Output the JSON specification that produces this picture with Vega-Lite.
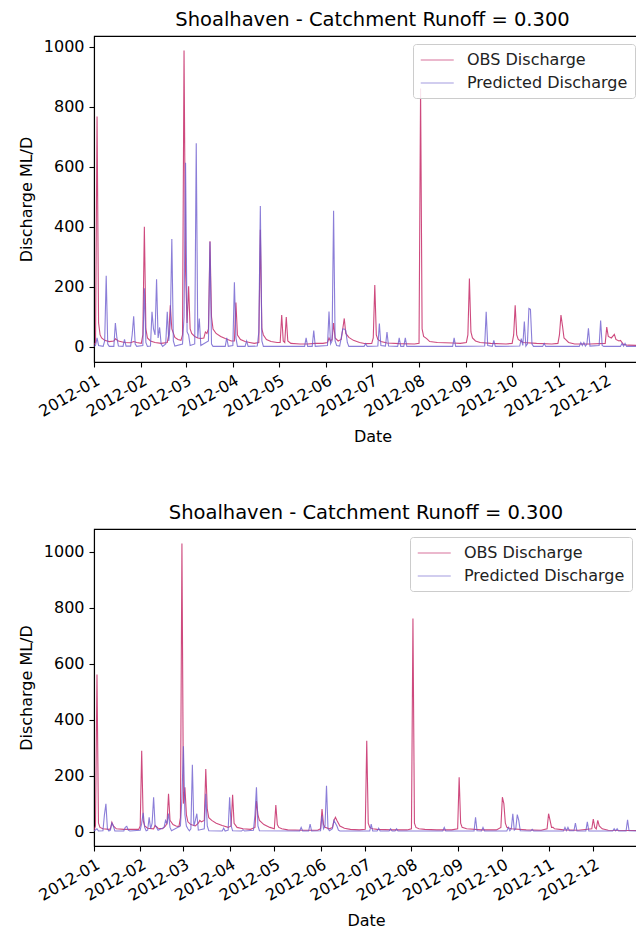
{
  "$schema": "https://vega.github.io/schema/vega-lite/v6.json",
  "background": "white",
  "padding": {"left": 17, "top": 8, "right": 0, "bottom": 0},
  "spacing": 56,
  "align": "none",
  "resolve": {"legend": {"color": "independent"}},
  "config": {
    "font": "DejaVu Sans",
    "view": {"stroke": "black", "strokeWidth": 1.1},
    "axis": {
      "labelFont": "DejaVu Sans", "labelFontSize": 16, "labelColor": "black",
      "titleFont": "DejaVu Sans", "titleFontSize": 16, "titleFontWeight": "normal", "titleColor": "black",
      "domainColor": "black", "domainWidth": 1.1, "tickColor": "black", "tickSize": 5, "tickWidth": 1.1,
      "grid": false, "labelPadding": 5
    },
    "axisY": {"titlePadding": 9},
    "axisX": {"titlePadding": 9},
    "title": {"font": "DejaVu Sans", "fontSize": 19.5, "fontWeight": "normal", "color": "black", "offset": 6},
    "legend": {
      "title": null,
      "labelFont": "DejaVu Sans", "labelFontSize": 16, "labelColor": "#222222", "labelLimit": 400,
      "symbolType": "M-1,0H3", "symbolSize": 272, "symbolStrokeWidth": 1.2, "symbolOpacity": 0.6,
      "fillColor": "rgba(255,255,255,0.85)", "strokeColor": "#cccccc", "cornerRadius": 3,
      "padding": 7, "rowPadding": 6, "labelOffset": 29
    }
  },
  "datasets": {
    "top": [
      {"d":"2012-01-01","o":8},{"d":"2012-01-02","o":15},{"d":"2012-01-03","o":767},{"d":"2012-01-04","o":80},{"d":"2012-01-05","o":40},{"d":"2012-01-06","o":30},{"d":"2012-01-08","o":22},{"d":"2012-01-11","o":18},{"d":"2012-01-14","o":20},{"d":"2012-01-15","o":27},{"d":"2012-01-17","o":20},{"d":"2012-01-21","o":15},{"d":"2012-01-25","o":14},{"d":"2012-01-27","o":18},{"d":"2012-01-29","o":15},
      {"d":"2012-02-01","o":12},{"d":"2012-02-02","o":40},{"d":"2012-02-03","o":400},{"d":"2012-02-04","o":60},{"d":"2012-02-05","o":30},{"d":"2012-02-07","o":20},{"d":"2012-02-10","o":15},{"d":"2012-02-14","o":12},{"d":"2012-02-18","o":15},{"d":"2012-02-19","o":40},{"d":"2012-02-20","o":139},{"d":"2012-02-21","o":60},{"d":"2012-02-23","o":32},{"d":"2012-02-25","o":25},{"d":"2012-02-27","o":22},{"d":"2012-02-28","o":40},{"d":"2012-02-29","o":987},
      {"d":"2012-03-01","o":250},{"d":"2012-03-02","o":80},{"d":"2012-03-03","o":202},{"d":"2012-03-04","o":60},{"d":"2012-03-05","o":45},{"d":"2012-03-07","o":35},{"d":"2012-03-09","o":30},{"d":"2012-03-11","o":28},{"d":"2012-03-13","o":30},{"d":"2012-03-14","o":50},{"d":"2012-03-15","o":45},{"d":"2012-03-16","o":60},{"d":"2012-03-17","o":352},{"d":"2012-03-18","o":100},{"d":"2012-03-19","o":60},{"d":"2012-03-21","o":45},{"d":"2012-03-24","o":35},{"d":"2012-03-27","o":28},{"d":"2012-03-31","o":20},
      {"d":"2012-04-02","o":20},{"d":"2012-04-03","o":148},{"d":"2012-04-04","o":40},{"d":"2012-04-06","o":25},{"d":"2012-04-09","o":18},{"d":"2012-04-12","o":15},{"d":"2012-04-15","o":12},{"d":"2012-04-18","o":15},{"d":"2012-04-19","o":390},{"d":"2012-04-20","o":60},{"d":"2012-04-21","o":40},{"d":"2012-04-23","o":25},{"d":"2012-04-26","o":18},{"d":"2012-04-30","o":15},
      {"d":"2012-05-02","o":15},{"d":"2012-05-03","o":106},{"d":"2012-05-04","o":20},{"d":"2012-05-05","o":15},{"d":"2012-05-06","o":100},{"d":"2012-05-07","o":20},{"d":"2012-05-09","o":12},{"d":"2012-05-15","o":10},{"d":"2012-05-20","o":10},{"d":"2012-05-25","o":12},{"d":"2012-05-30","o":12},
      {"d":"2012-06-02","o":15},{"d":"2012-06-03","o":30},{"d":"2012-06-04","o":20},{"d":"2012-06-05","o":25},{"d":"2012-06-06","o":80},{"d":"2012-06-07","o":30},{"d":"2012-06-09","o":20},{"d":"2012-06-11","o":25},{"d":"2012-06-13","o":95},{"d":"2012-06-14","o":45},{"d":"2012-06-16","o":32},{"d":"2012-06-19","o":22},{"d":"2012-06-23","o":15},{"d":"2012-06-27","o":11},
      {"d":"2012-07-01","o":12},{"d":"2012-07-02","o":30},{"d":"2012-07-03","o":206},{"d":"2012-07-04","o":40},{"d":"2012-07-05","o":25},{"d":"2012-07-07","o":18},{"d":"2012-07-11","o":13},{"d":"2012-07-19","o":11},{"d":"2012-07-29","o":10},
      {"d":"2012-08-01","o":12},{"d":"2012-08-02","o":860},{"d":"2012-08-03","o":60},{"d":"2012-08-04","o":35},{"d":"2012-08-06","o":28},{"d":"2012-08-08","o":18},{"d":"2012-08-13","o":15},{"d":"2012-08-23","o":13},{"d":"2012-08-28","o":12},
      {"d":"2012-09-01","o":15},{"d":"2012-09-02","o":40},{"d":"2012-09-03","o":228},{"d":"2012-09-04","o":50},{"d":"2012-09-05","o":30},{"d":"2012-09-07","o":20},{"d":"2012-09-10","o":15},{"d":"2012-09-17","o":12},{"d":"2012-09-27","o":10},
      {"d":"2012-10-01","o":12},{"d":"2012-10-02","o":40},{"d":"2012-10-03","o":139},{"d":"2012-10-04","o":40},{"d":"2012-10-05","o":25},{"d":"2012-10-08","o":15},{"d":"2012-10-17","o":12},{"d":"2012-10-27","o":10},{"d":"2012-10-31","o":12},
      {"d":"2012-11-01","o":40},{"d":"2012-11-02","o":106},{"d":"2012-11-03","o":70},{"d":"2012-11-04","o":30},{"d":"2012-11-05","o":25},{"d":"2012-11-07","o":15},{"d":"2012-11-11","o":10},{"d":"2012-11-21","o":10},
      {"d":"2012-12-01","o":12},{"d":"2012-12-02","o":66},{"d":"2012-12-03","o":35},{"d":"2012-12-05","o":30},{"d":"2012-12-07","o":42},{"d":"2012-12-08","o":25},{"d":"2012-12-10","o":20},{"d":"2012-12-11","o":22},{"d":"2012-12-13","o":8},{"d":"2012-12-16","o":6},{"d":"2012-12-26","o":5},{"d":"2012-12-31","o":5},
      {"d":"2012-01-01","p":2},{"d":"2012-01-02","p":5},{"d":"2012-01-03","p":30},{"d":"2012-01-04","p":5},{"d":"2012-01-07","p":2},{"d":"2012-01-08","p":20},{"d":"2012-01-09","p":237},{"d":"2012-01-10","p":10},{"d":"2012-01-11","p":2},{"d":"2012-01-14","p":2},{"d":"2012-01-15","p":80},{"d":"2012-01-16","p":30},{"d":"2012-01-17","p":3},{"d":"2012-01-20","p":2},{"d":"2012-01-21","p":25},{"d":"2012-01-22","p":3},{"d":"2012-01-25","p":3},{"d":"2012-01-26","p":40},{"d":"2012-01-27","p":102},{"d":"2012-01-28","p":10},{"d":"2012-01-29","p":2},
      {"d":"2012-02-02","p":5},{"d":"2012-02-03","p":195},{"d":"2012-02-04","p":15},{"d":"2012-02-05","p":2},{"d":"2012-02-07","p":3},{"d":"2012-02-08","p":117},{"d":"2012-02-09","p":60},{"d":"2012-02-10","p":40},{"d":"2012-02-11","p":225},{"d":"2012-02-12","p":30},{"d":"2012-02-13","p":65},{"d":"2012-02-14","p":10},{"d":"2012-02-15","p":2},{"d":"2012-02-17","p":10},{"d":"2012-02-18","p":117},{"d":"2012-02-19","p":20},{"d":"2012-02-20","p":80},{"d":"2012-02-21","p":359},{"d":"2012-02-22","p":20},{"d":"2012-02-23","p":3},{"d":"2012-02-28","p":10},{"d":"2012-02-29","p":100},
      {"d":"2012-03-01","p":613},{"d":"2012-03-02","p":50},{"d":"2012-03-03","p":40},{"d":"2012-03-04","p":5},{"d":"2012-03-07","p":10},{"d":"2012-03-08","p":678},{"d":"2012-03-09","p":30},{"d":"2012-03-10","p":95},{"d":"2012-03-11","p":5},{"d":"2012-03-16","p":20},{"d":"2012-03-17","p":350},{"d":"2012-03-18","p":10},{"d":"2012-03-19","p":2},{"d":"2012-03-27","p":2},{"d":"2012-03-28","p":30},{"d":"2012-03-29","p":2},
      {"d":"2012-04-01","p":5},{"d":"2012-04-02","p":215},{"d":"2012-04-03","p":30},{"d":"2012-04-04","p":2},{"d":"2012-04-09","p":2},{"d":"2012-04-10","p":20},{"d":"2012-04-11","p":2},{"d":"2012-04-17","p":3},{"d":"2012-04-18","p":50},{"d":"2012-04-19","p":469},{"d":"2012-04-20","p":20},{"d":"2012-04-21","p":2},
      {"d":"2012-05-18","p":2},{"d":"2012-05-19","p":30},{"d":"2012-05-20","p":2},{"d":"2012-05-23","p":2},{"d":"2012-05-24","p":55},{"d":"2012-05-25","p":2},
      {"d":"2012-06-02","p":5},{"d":"2012-06-03","p":118},{"d":"2012-06-04","p":10},{"d":"2012-06-05","p":20},{"d":"2012-06-06","p":453},{"d":"2012-06-07","p":20},{"d":"2012-06-08","p":5},{"d":"2012-06-10","p":3},{"d":"2012-06-11","p":30},{"d":"2012-06-12","p":60},{"d":"2012-06-13","p":60},{"d":"2012-06-14","p":55},{"d":"2012-06-15","p":15},{"d":"2012-06-16","p":2},{"d":"2012-06-26","p":2},{"d":"2012-06-27","p":11},{"d":"2012-06-28","p":2},
      {"d":"2012-07-05","p":3},{"d":"2012-07-06","p":78},{"d":"2012-07-07","p":5},{"d":"2012-07-10","p":3},{"d":"2012-07-11","p":50},{"d":"2012-07-12","p":3},{"d":"2012-07-18","p":2},{"d":"2012-07-19","p":30},{"d":"2012-07-20","p":2},{"d":"2012-07-22","p":2},{"d":"2012-07-23","p":30},{"d":"2012-07-24","p":2},
      {"d":"2012-08-23","p":2},{"d":"2012-08-24","p":30},{"d":"2012-08-25","p":2},
      {"d":"2012-09-13","p":3},{"d":"2012-09-14","p":117},{"d":"2012-09-15","p":5},{"d":"2012-09-18","p":2},{"d":"2012-09-19","p":22},{"d":"2012-09-20","p":2},
      {"d":"2012-10-06","p":3},{"d":"2012-10-07","p":28},{"d":"2012-10-08","p":5},{"d":"2012-10-09","p":85},{"d":"2012-10-10","p":3},{"d":"2012-10-11","p":10},{"d":"2012-10-12","p":128},{"d":"2012-10-13","p":125},{"d":"2012-10-14","p":10},{"d":"2012-10-15","p":2},{"d":"2012-10-21","p":2},{"d":"2012-10-22","p":12},{"d":"2012-10-23","p":2},
      {"d":"2012-11-14","p":2},{"d":"2012-11-15","p":15},{"d":"2012-11-16","p":5},{"d":"2012-11-17","p":15},{"d":"2012-11-18","p":3},{"d":"2012-11-19","p":10},{"d":"2012-11-20","p":62},{"d":"2012-11-21","p":3},{"d":"2012-11-27","p":5},{"d":"2012-11-28","p":88},{"d":"2012-11-29","p":5},{"d":"2012-11-30","p":2},
      {"d":"2012-12-11","p":2},{"d":"2012-12-12","p":12},{"d":"2012-12-13","p":3},{"d":"2012-12-14","p":12},{"d":"2012-12-15","p":2},{"d":"2012-12-31","p":2}
    ],
    "bottom": [
      {"d":"2012-01-01","o":5},{"d":"2012-01-02","o":20},{"d":"2012-01-03","o":561},{"d":"2012-01-04","o":30},{"d":"2012-01-05","o":15},{"d":"2012-01-07","o":10},{"d":"2012-01-11","o":8},{"d":"2012-01-12","o":10},{"d":"2012-01-13","o":33},{"d":"2012-01-14","o":20},{"d":"2012-01-16","o":10},{"d":"2012-01-21","o":8},{"d":"2012-01-26","o":8},{"d":"2012-01-31","o":8},
      {"d":"2012-02-01","o":20},{"d":"2012-02-02","o":289},{"d":"2012-02-03","o":40},{"d":"2012-02-04","o":20},{"d":"2012-02-06","o":12},{"d":"2012-02-10","o":10},{"d":"2012-02-11","o":22},{"d":"2012-02-13","o":12},{"d":"2012-02-16","o":10},{"d":"2012-02-18","o":20},{"d":"2012-02-19","o":30},{"d":"2012-02-20","o":135},{"d":"2012-02-21","o":40},{"d":"2012-02-23","o":25},{"d":"2012-02-25","o":20},{"d":"2012-02-27","o":18},{"d":"2012-02-28","o":50},{"d":"2012-02-29","o":1030},
      {"d":"2012-03-01","o":100},{"d":"2012-03-02","o":158},{"d":"2012-03-03","o":60},{"d":"2012-03-04","o":35},{"d":"2012-03-06","o":25},{"d":"2012-03-09","o":20},{"d":"2012-03-11","o":30},{"d":"2012-03-12","o":40},{"d":"2012-03-13","o":35},{"d":"2012-03-15","o":40},{"d":"2012-03-16","o":224},{"d":"2012-03-17","o":80},{"d":"2012-03-18","o":50},{"d":"2012-03-20","o":40},{"d":"2012-03-23","o":30},{"d":"2012-03-27","o":22},{"d":"2012-03-31","o":15},
      {"d":"2012-04-02","o":20},{"d":"2012-04-03","o":132},{"d":"2012-04-04","o":30},{"d":"2012-04-06","o":15},{"d":"2012-04-10","o":10},{"d":"2012-04-15","o":8},{"d":"2012-04-18","o":15},{"d":"2012-04-19","o":110},{"d":"2012-04-20","o":60},{"d":"2012-04-21","o":40},{"d":"2012-04-24","o":25},{"d":"2012-04-28","o":15},
      {"d":"2012-05-01","o":10},{"d":"2012-05-02","o":95},{"d":"2012-05-03","o":25},{"d":"2012-05-04","o":15},{"d":"2012-05-06","o":10},{"d":"2012-05-10","o":6},{"d":"2012-05-20","o":5},{"d":"2012-05-30","o":5},
      {"d":"2012-06-01","o":10},{"d":"2012-06-02","o":81},{"d":"2012-06-03","o":25},{"d":"2012-06-04","o":15},{"d":"2012-06-07","o":10},{"d":"2012-06-09","o":15},{"d":"2012-06-10","o":40},{"d":"2012-06-11","o":51},{"d":"2012-06-12","o":40},{"d":"2012-06-14","o":20},{"d":"2012-06-17","o":12},{"d":"2012-06-21","o":8},{"d":"2012-06-27","o":6},
      {"d":"2012-07-01","o":8},{"d":"2012-07-02","o":325},{"d":"2012-07-03","o":30},{"d":"2012-07-04","o":15},{"d":"2012-07-06","o":10},{"d":"2012-07-09","o":8},{"d":"2012-07-19","o":6},{"d":"2012-07-29","o":6},
      {"d":"2012-08-01","o":10},{"d":"2012-08-02","o":762},{"d":"2012-08-03","o":30},{"d":"2012-08-04","o":15},{"d":"2012-08-06","o":10},{"d":"2012-08-10","o":8},{"d":"2012-08-18","o":6},{"d":"2012-08-28","o":6},
      {"d":"2012-09-01","o":10},{"d":"2012-09-02","o":194},{"d":"2012-09-03","o":30},{"d":"2012-09-04","o":15},{"d":"2012-09-07","o":10},{"d":"2012-09-17","o":6},{"d":"2012-09-27","o":6},{"d":"2012-09-30","o":15},
      {"d":"2012-10-01","o":123},{"d":"2012-10-02","o":100},{"d":"2012-10-03","o":30},{"d":"2012-10-04","o":15},{"d":"2012-10-07","o":10},{"d":"2012-10-17","o":6},{"d":"2012-10-27","o":5},{"d":"2012-10-31","o":10},
      {"d":"2012-11-01","o":64},{"d":"2012-11-02","o":40},{"d":"2012-11-03","o":15},{"d":"2012-11-04","o":15},{"d":"2012-11-05","o":10},{"d":"2012-11-11","o":6},{"d":"2012-11-21","o":5},{"d":"2012-11-30","o":10},
      {"d":"2012-12-01","o":45},{"d":"2012-12-02","o":15},{"d":"2012-12-03","o":10},{"d":"2012-12-04","o":40},{"d":"2012-12-05","o":20},{"d":"2012-12-07","o":10},{"d":"2012-12-11","o":5},{"d":"2012-12-26","o":4},{"d":"2012-12-31","o":4},
      {"d":"2012-01-01","p":2},{"d":"2012-01-03","p":10},{"d":"2012-01-04","p":2},{"d":"2012-01-07","p":3},{"d":"2012-01-08","p":60},{"d":"2012-01-09","p":99},{"d":"2012-01-10","p":10},{"d":"2012-01-11","p":2},{"d":"2012-01-12","p":5},{"d":"2012-01-13","p":30},{"d":"2012-01-14","p":20},{"d":"2012-01-15","p":2},{"d":"2012-01-21","p":2},{"d":"2012-01-22","p":15},{"d":"2012-01-23","p":19},{"d":"2012-01-24","p":5},{"d":"2012-01-25","p":2},
      {"d":"2012-02-01","p":5},{"d":"2012-02-02","p":30},{"d":"2012-02-03","p":67},{"d":"2012-02-04","p":15},{"d":"2012-02-05","p":3},{"d":"2012-02-06","p":5},{"d":"2012-02-07","p":51},{"d":"2012-02-08","p":10},{"d":"2012-02-09","p":30},{"d":"2012-02-10","p":123},{"d":"2012-02-11","p":20},{"d":"2012-02-12","p":15},{"d":"2012-02-13","p":5},{"d":"2012-02-17","p":15},{"d":"2012-02-18","p":40},{"d":"2012-02-19","p":30},{"d":"2012-02-20","p":64},{"d":"2012-02-21","p":15},{"d":"2012-02-22","p":3},{"d":"2012-02-28","p":20},{"d":"2012-02-29","p":120},
      {"d":"2012-03-01","p":305},{"d":"2012-03-02","p":60},{"d":"2012-03-03","p":20},{"d":"2012-03-04","p":10},{"d":"2012-03-05","p":3},{"d":"2012-03-06","p":10},{"d":"2012-03-07","p":239},{"d":"2012-03-08","p":20},{"d":"2012-03-09","p":40},{"d":"2012-03-10","p":64},{"d":"2012-03-11","p":5},{"d":"2012-03-15","p":10},{"d":"2012-03-16","p":135},{"d":"2012-03-17","p":20},{"d":"2012-03-18","p":3},{"d":"2012-03-27","p":2},{"d":"2012-03-28","p":12},{"d":"2012-03-29","p":2},{"d":"2012-03-31","p":5},
      {"d":"2012-04-01","p":123},{"d":"2012-04-02","p":20},{"d":"2012-04-03","p":3},{"d":"2012-04-09","p":2},{"d":"2012-04-10","p":7},{"d":"2012-04-11","p":2},{"d":"2012-04-17","p":5},{"d":"2012-04-18","p":60},{"d":"2012-04-19","p":158},{"d":"2012-04-20","p":20},{"d":"2012-04-21","p":3},
      {"d":"2012-05-18","p":2},{"d":"2012-05-19","p":15},{"d":"2012-05-20","p":2},{"d":"2012-05-24","p":2},{"d":"2012-05-25","p":27},{"d":"2012-05-26","p":2},
      {"d":"2012-06-01","p":3},{"d":"2012-06-02","p":57},{"d":"2012-06-03","p":10},{"d":"2012-06-04","p":20},{"d":"2012-06-05","p":164},{"d":"2012-06-06","p":10},{"d":"2012-06-07","p":3},{"d":"2012-06-09","p":10},{"d":"2012-06-10","p":40},{"d":"2012-06-11","p":30},{"d":"2012-06-12","p":20},{"d":"2012-06-13","p":5},{"d":"2012-06-14","p":2},
      {"d":"2012-07-04","p":2},{"d":"2012-07-05","p":27},{"d":"2012-07-06","p":2},{"d":"2012-07-09","p":2},{"d":"2012-07-10","p":12},{"d":"2012-07-11","p":2},{"d":"2012-07-17","p":2},{"d":"2012-07-18","p":10},{"d":"2012-07-19","p":2},{"d":"2012-07-21","p":2},{"d":"2012-07-22","p":10},{"d":"2012-07-23","p":2},
      {"d":"2012-08-22","p":2},{"d":"2012-08-23","p":15},{"d":"2012-08-24","p":2},
      {"d":"2012-09-12","p":2},{"d":"2012-09-13","p":51},{"d":"2012-09-14","p":3},{"d":"2012-09-17","p":2},{"d":"2012-09-18","p":15},{"d":"2012-09-19","p":2},
      {"d":"2012-10-04","p":2},{"d":"2012-10-05","p":15},{"d":"2012-10-06","p":3},{"d":"2012-10-07","p":10},{"d":"2012-10-08","p":64},{"d":"2012-10-09","p":5},{"d":"2012-10-10","p":10},{"d":"2012-10-11","p":61},{"d":"2012-10-12","p":40},{"d":"2012-10-13","p":3},{"d":"2012-10-20","p":2},{"d":"2012-10-21","p":8},{"d":"2012-10-22","p":2},
      {"d":"2012-11-11","p":2},{"d":"2012-11-12","p":15},{"d":"2012-11-13","p":3},{"d":"2012-11-14","p":15},{"d":"2012-11-15","p":3},{"d":"2012-11-18","p":3},{"d":"2012-11-19","p":30},{"d":"2012-11-20","p":2},{"d":"2012-11-26","p":2},{"d":"2012-11-27","p":35},{"d":"2012-11-28","p":2},
      {"d":"2012-12-14","p":2},{"d":"2012-12-15","p":10},{"d":"2012-12-16","p":3},{"d":"2012-12-17","p":10},{"d":"2012-12-18","p":2},{"d":"2012-12-23","p":2},{"d":"2012-12-24","p":42},{"d":"2012-12-25","p":3},{"d":"2012-12-31","p":2}
    ]
  },
  "vconcat": [
    {
      "title": "Shoalhaven - Catchment Runoff = 0.300",
      "width": 557,
      "height": 326,
      "data": {"name": "top"},
      "transform": [{"fold": ["o", "p"], "as": ["s", "v"]}, {"filter": "isValid(datum.v)"}],
      "mark": {"type": "line", "strokeWidth": 1.1, "opacity": 0.78, "clip": true},
      "encoding": {
        "x": {"field": "d", "type": "temporal", "scale": {"nice": false},
          "axis": {"title": "Date", "format": "%Y-%m", "labelAngle": -30, "labelAlign": "right", "labelBaseline": "top", "tickCount": {"interval": "month", "step": 1}, "labelFlush": false, "labelOverlap": false}},
        "y": {"field": "v", "type": "quantitative", "scale": {"domain": [-50, 1035], "nice": false, "zero": false},
          "axis": {"title": "Discharge ML/D", "format": "d", "values": [0, 200, 400, 600, 800, 1000]}},
        "color": {"field": "s", "type": "nominal",
          "scale": {"domain": ["o", "p"], "range": ["#c0175a", "#6a5acd"]},
          "legend": {"orient": "none", "legendX": 319, "legendY": 8, "labelExpr": "datum.label == 'o' ? 'OBS Discharge' : 'Predicted Discharge'"}}
      }
    },
    {
      "title": "Shoalhaven - Catchment Runoff = 0.300",
      "width": 544,
      "height": 317,
      "data": {"name": "bottom"},
      "transform": [{"fold": ["o", "p"], "as": ["s", "v"]}, {"filter": "isValid(datum.v)"}],
      "mark": {"type": "line", "strokeWidth": 1.1, "opacity": 0.78, "clip": true},
      "encoding": {
        "x": {"field": "d", "type": "temporal", "scale": {"nice": false},
          "axis": {"title": "Date", "format": "%Y-%m", "labelAngle": -30, "labelAlign": "right", "labelBaseline": "top", "tickCount": {"interval": "month", "step": 1}, "labelFlush": false, "labelOverlap": false}},
        "y": {"field": "v", "type": "quantitative", "scale": {"domain": [-51.5, 1081.5], "nice": false, "zero": false},
          "axis": {"title": "Discharge ML/D", "format": "d", "values": [0, 200, 400, 600, 800, 1000]}},
        "color": {"field": "s", "type": "nominal",
          "scale": {"domain": ["o", "p"], "range": ["#c0175a", "#6a5acd"]},
          "legend": {"orient": "none", "legendX": 316, "legendY": 8, "labelExpr": "datum.label == 'o' ? 'OBS Discharge' : 'Predicted Discharge'"}}
      }
    }
  ]
}
